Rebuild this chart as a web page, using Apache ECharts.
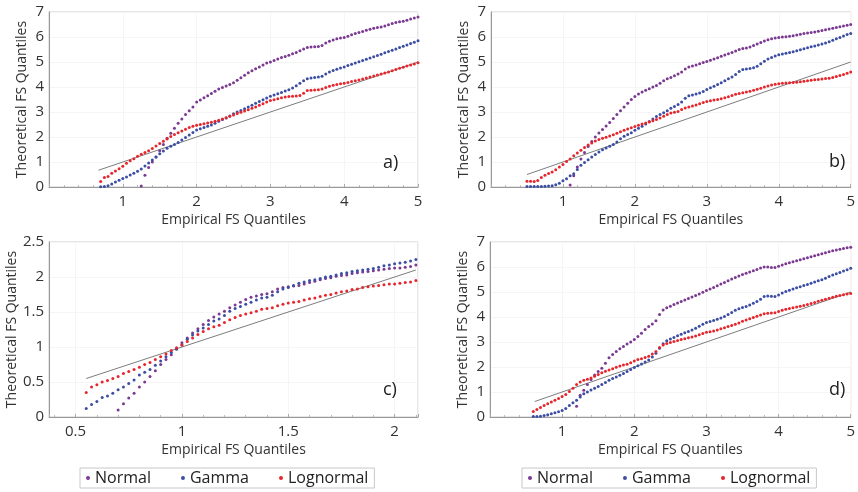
<!DOCTYPE html>
<html><head><meta charset="utf-8">
<script src="https://cdn.jsdelivr.net/npm/echarts@6/dist/echarts.min.js"></script>
<style>html,body{margin:0;padding:0;background:#fff}#c{width:858px;height:492px}</style>
</head><body><div id="c"></div>
<script>
// ---------- DATA ----------
const seriesNames = ['Normal', 'Gamma', 'Lognormal'];
const panelTags = ['a)', 'b)', 'c)', 'd)'];

// Panel a
const xA = [0.70,0.75,0.80,0.85,0.90,0.95,1.00,1.05,1.10,1.15,
  1.20,1.25,1.30,1.35,1.40,1.45,1.50,1.55,1.60,1.65,
  1.70,1.75,1.80,1.85,1.90,1.95,2.00,2.05,2.10,2.15,
  2.20,2.25,2.30,2.35,2.40,2.45,2.50,2.55,2.60,2.65,
  2.70,2.75,2.80,2.85,2.90,2.95,3.00,3.05,3.10,3.15,
  3.20,3.25,3.30,3.35,3.40,3.45,3.50,3.55,3.60,3.65,
  3.70,3.75,3.80,3.85,3.90,3.95,4.00,4.05,4.10,4.15,
  4.20,4.25,4.30,4.35,4.40,4.45,4.50,4.55,4.60,4.65,
  4.70,4.75,4.80,4.85,4.90,4.95,5.00];
const normalA = [null,null,null,null,null,null,null,null,null,null,
  null,0.04,0.47,0.78,1.00,1.20,1.45,1.70,1.95,2.15,
  2.35,2.55,2.72,2.90,3.05,3.20,3.40,3.48,3.57,3.65,
  3.74,3.83,3.92,3.98,4.04,4.10,4.17,4.27,4.37,4.47,
  4.57,4.65,4.73,4.80,4.88,4.96,5.00,5.06,5.12,5.18,
  5.22,5.27,5.33,5.38,5.45,5.52,5.58,5.60,5.61,5.62,
  5.66,5.76,5.83,5.88,5.93,5.96,5.98,6.03,6.09,6.14,
  6.18,6.22,6.27,6.31,6.35,6.38,6.40,6.44,6.49,6.54,
  6.58,6.61,6.63,6.67,6.72,6.76,6.80];
const gammaA = [0.01,0.02,0.05,0.12,0.20,0.27,0.34,0.40,0.48,0.55,
  0.63,0.72,0.84,0.96,1.08,1.20,1.33,1.44,1.55,1.63,
  1.70,1.78,1.88,1.98,2.08,2.18,2.28,2.33,2.38,2.43,
  2.48,2.55,2.63,2.70,2.76,2.84,2.93,3.00,3.06,3.13,
  3.20,3.27,3.35,3.42,3.49,3.56,3.63,3.68,3.73,3.78,
  3.84,3.89,3.96,4.05,4.15,4.25,4.33,4.36,4.38,4.40,
  4.43,4.52,4.60,4.66,4.71,4.76,4.80,4.86,4.91,4.96,
  5.01,5.06,5.11,5.16,5.21,5.26,5.31,5.37,5.42,5.47,
  5.52,5.58,5.63,5.68,5.74,5.79,5.85];
const lognormA = [0.22,0.38,0.42,0.55,0.64,0.73,0.83,0.95,1.05,1.13,
  1.23,1.31,1.38,1.45,1.54,1.64,1.74,1.83,1.92,2.02,
  2.10,2.17,2.24,2.31,2.38,2.43,2.47,2.50,2.53,2.56,
  2.59,2.63,2.67,2.72,2.77,2.83,2.88,2.94,2.99,3.04,
  3.09,3.15,3.20,3.27,3.33,3.40,3.46,3.49,3.53,3.57,
  3.60,3.62,3.63,3.64,3.66,3.75,3.86,3.87,3.88,3.89,
  3.92,3.98,4.03,4.07,4.10,4.13,4.15,4.18,4.22,4.25,
  4.28,4.32,4.36,4.40,4.44,4.48,4.52,4.56,4.60,4.65,
  4.70,4.75,4.79,4.84,4.88,4.92,4.97];
const refA = [0.67, 5.0];

// Panel b
const xB = [0.50,0.55,0.60,0.65,0.70,0.75,0.80,0.85,0.90,0.95,
  1.00,1.05,1.10,1.15,1.20,1.25,1.30,1.35,1.40,1.45,
  1.50,1.55,1.60,1.65,1.70,1.75,1.80,1.85,1.90,1.95,
  2.00,2.05,2.10,2.15,2.20,2.25,2.30,2.35,2.40,2.45,
  2.50,2.55,2.60,2.65,2.70,2.75,2.80,2.85,2.90,2.95,
  3.00,3.05,3.10,3.15,3.20,3.25,3.30,3.35,3.40,3.45,
  3.50,3.55,3.60,3.65,3.70,3.75,3.80,3.85,3.90,3.95,
  4.00,4.05,4.10,4.15,4.20,4.25,4.30,4.35,4.40,4.45,
  4.50,4.55,4.60,4.65,4.70,4.75,4.80,4.85,4.90,4.95,
  5.00];
const normalB = [null,null,null,null,null,null,null,null,null,null,
  null,null,0.08,0.45,0.80,1.12,1.38,1.62,1.82,2.00,
  2.16,2.30,2.44,2.58,2.74,2.90,3.05,3.20,3.35,3.50,
  3.62,3.72,3.80,3.87,3.93,4.00,4.06,4.15,4.25,4.33,
  4.38,4.45,4.52,4.60,4.72,4.80,4.84,4.88,4.93,4.98,
  5.02,5.07,5.12,5.17,5.23,5.28,5.33,5.38,5.44,5.50,
  5.54,5.56,5.60,5.66,5.72,5.78,5.84,5.89,5.93,5.96,
  5.98,6.00,6.01,6.03,6.05,6.08,6.11,6.14,6.16,6.18,
  6.20,6.23,6.26,6.29,6.32,6.35,6.38,6.41,6.44,6.47,
  6.50];
const gammaB = [0.02,0.02,0.02,0.02,0.02,0.03,0.04,0.05,0.09,0.15,
  0.25,0.33,0.45,0.53,0.70,0.87,0.98,1.09,1.20,1.30,
  1.40,1.49,1.56,1.63,1.70,1.80,1.93,2.03,2.10,2.17,
  2.27,2.35,2.43,2.52,2.62,2.72,2.82,2.90,2.97,3.05,
  3.15,3.22,3.30,3.40,3.55,3.65,3.68,3.72,3.76,3.82,
  3.90,3.97,4.03,4.10,4.17,4.25,4.33,4.40,4.50,4.62,
  4.70,4.72,4.74,4.77,4.83,4.93,5.03,5.12,5.18,5.24,
  5.29,5.32,5.35,5.38,5.41,5.45,5.49,5.53,5.57,5.61,
  5.64,5.68,5.72,5.76,5.81,5.87,5.93,5.98,6.04,6.10,
  6.14];
const lognormB = [0.23,0.23,0.22,0.26,0.38,0.47,0.54,0.60,0.69,0.80,
  0.90,1.02,1.12,1.25,1.36,1.47,1.58,1.68,1.76,1.84,
  1.90,1.95,1.99,2.04,2.09,2.15,2.21,2.27,2.32,2.37,
  2.42,2.47,2.52,2.56,2.60,2.65,2.70,2.76,2.83,2.90,
  2.96,2.99,3.02,3.10,3.16,3.20,3.24,3.28,3.33,3.38,
  3.42,3.45,3.48,3.50,3.53,3.57,3.61,3.66,3.71,3.74,
  3.77,3.80,3.83,3.87,3.91,3.95,4.00,4.04,4.08,4.11,
  4.13,4.15,4.16,4.17,4.18,4.19,4.21,4.23,4.25,4.27,
  4.29,4.30,4.32,4.34,4.35,4.38,4.42,4.46,4.50,4.55,
  4.60];
const refB = [0.50, 5.0];

// Panel c
const xC = [0.550,0.575,0.600,0.625,0.650,0.675,0.700,0.725,0.750,0.775,
  0.800,0.825,0.850,0.875,0.900,0.925,0.950,0.975,1.000,1.025,
  1.050,1.075,1.100,1.125,1.150,1.175,1.200,1.225,1.250,1.275,
  1.300,1.325,1.350,1.375,1.400,1.425,1.450,1.475,1.500,1.525,
  1.550,1.575,1.600,1.625,1.650,1.675,1.700,1.725,1.750,1.775,
  1.800,1.825,1.850,1.875,1.900,1.925,1.950,1.975,2.000,2.025,
  2.050,2.075,2.100];
const normalC = [null,null,null,null,null,null,0.10,0.19,0.27,0.34,
  0.43,0.50,0.58,0.66,0.75,0.82,0.89,0.97,1.06,1.13,
  1.20,1.26,1.32,1.38,1.43,1.47,1.51,1.56,1.60,1.64,
  1.68,1.71,1.73,1.75,1.76,1.79,1.83,1.85,1.86,1.87,
  1.88,1.90,1.92,1.94,1.96,1.98,1.99,2.01,2.02,2.03,
  2.05,2.06,2.07,2.08,2.09,2.10,2.11,2.12,2.13,2.13,
  2.14,2.15,2.17];
const gammaC = [0.12,0.18,0.22,0.28,0.30,0.34,0.39,0.43,0.48,0.53,
  0.60,0.64,0.68,0.74,0.80,0.86,0.92,0.97,1.03,1.11,
  1.17,1.23,1.27,1.32,1.37,1.40,1.45,1.51,1.55,1.58,
  1.61,1.64,1.67,1.70,1.71,1.74,1.79,1.83,1.85,1.88,
  1.91,1.93,1.95,1.96,1.98,2.00,2.01,2.03,2.05,2.06,
  2.08,2.09,2.10,2.11,2.12,2.14,2.16,2.17,2.19,2.20,
  2.21,2.23,2.25];
const lognormC = [0.35,0.43,0.46,0.50,0.52,0.55,0.58,0.62,0.65,0.68,
  0.71,0.75,0.78,0.82,0.86,0.90,0.95,0.99,1.03,1.08,
  1.13,1.18,1.22,1.26,1.29,1.31,1.35,1.39,1.42,1.45,
  1.47,1.49,1.51,1.54,1.55,1.56,1.59,1.61,1.63,1.64,
  1.65,1.67,1.69,1.70,1.72,1.74,1.75,1.77,1.79,1.80,
  1.82,1.83,1.85,1.86,1.87,1.88,1.89,1.90,1.90,1.91,
  1.92,1.93,1.95];
const refC = [0.55, 2.1];

// Panel d
const xD = [0.60,0.65,0.70,0.75,0.80,0.85,0.90,0.95,1.00,1.05,
  1.10,1.15,1.20,1.25,1.30,1.35,1.40,1.45,1.50,1.55,
  1.60,1.65,1.70,1.75,1.80,1.85,1.90,1.95,2.00,2.05,
  2.10,2.15,2.20,2.25,2.30,2.35,2.40,2.45,2.50,2.55,
  2.60,2.65,2.70,2.75,2.80,2.85,2.90,2.95,3.00,3.05,
  3.10,3.15,3.20,3.25,3.30,3.35,3.40,3.45,3.50,3.55,
  3.60,3.65,3.70,3.75,3.80,3.85,3.90,3.95,4.00,4.05,
  4.10,4.15,4.20,4.25,4.30,4.35,4.40,4.45,4.50,4.55,
  4.60,4.65,4.70,4.75,4.80,4.85,4.90,4.95,5.00];
const normalD = [null,null,null,null,null,null,null,null,null,null,
  null,null,0.43,0.87,1.07,1.30,1.50,1.68,1.82,1.95,
  2.15,2.37,2.50,2.62,2.73,2.82,2.92,3.00,3.10,3.22,
  3.35,3.50,3.62,3.72,3.85,4.10,4.28,4.37,4.43,4.50,
  4.56,4.62,4.68,4.74,4.80,4.86,4.92,4.99,5.06,5.12,
  5.18,5.25,5.32,5.38,5.45,5.52,5.58,5.64,5.70,5.75,
  5.80,5.85,5.90,5.96,6.00,6.00,5.98,5.98,6.03,6.08,
  6.13,6.17,6.21,6.25,6.29,6.33,6.37,6.41,6.45,6.49,
  6.53,6.57,6.61,6.65,6.68,6.71,6.74,6.77,6.79];
const gammaD = [0.02,0.02,0.03,0.06,0.09,0.13,0.17,0.21,0.26,0.34,
  0.46,0.57,0.67,0.80,0.93,1.00,1.08,1.15,1.22,1.30,
  1.38,1.47,1.54,1.60,1.67,1.74,1.82,1.90,1.98,2.05,
  2.12,2.20,2.28,2.40,2.55,2.75,2.93,3.05,3.12,3.18,
  3.25,3.31,3.37,3.42,3.48,3.55,3.63,3.71,3.78,3.82,
  3.86,3.91,3.96,4.02,4.10,4.18,4.27,4.33,4.38,4.42,
  4.48,4.55,4.62,4.71,4.82,4.84,4.83,4.82,4.88,4.96,
  5.02,5.07,5.12,5.17,5.21,5.26,5.30,5.35,5.40,5.45,
  5.49,5.55,5.62,5.68,5.73,5.78,5.84,5.89,5.95];
const lognormD = [0.22,0.30,0.38,0.46,0.53,0.60,0.67,0.74,0.82,0.90,
  1.02,1.15,1.30,1.40,1.47,1.51,1.56,1.63,1.70,1.77,
  1.83,1.88,1.93,1.99,2.04,2.08,2.11,2.17,2.24,2.30,
  2.33,2.38,2.43,2.52,2.62,2.78,2.88,2.94,2.98,3.02,
  3.06,3.10,3.13,3.17,3.20,3.24,3.29,3.34,3.39,3.41,
  3.44,3.48,3.53,3.57,3.62,3.66,3.71,3.76,3.83,3.88,
  3.93,3.98,4.03,4.08,4.13,4.15,4.16,4.17,4.22,4.27,
  4.31,4.34,4.37,4.40,4.43,4.46,4.50,4.54,4.58,4.63,
  4.67,4.71,4.75,4.79,4.83,4.86,4.89,4.92,4.94];
const refD = [0.62, 5.0];

// Axis ranges / ticks
const xRanges = [[0, 5], [0, 5], [0.375, 2.11], [0, 5]];
const yRanges = [[0, 7], [0, 7], [0, 2.5], [0, 7]];
const yIntervals = [1, 1, 0.5, 1];

// ---------- STYLE / LAYOUT ----------
const colors = { Normal: '#7b3a92', Gamma: '#3b4ea3', Lognormal: '#e6262c' };
const grids = [
  { left: 49, top: 12, width: 369, height: 175 },
  { left: 491, top: 12, width: 369.5, height: 175 },
  { left: 49, top: 242, width: 369, height: 175 },
  { left: 490, top: 242, width: 370, height: 175 }
];
const tagPos = [[383, 163], [829, 162], [383, 390], [829, 390]];

const panels = [
  { x: xA, Normal: normalA, Gamma: gammaA, Lognormal: lognormA, ref: refA },
  { x: xB, Normal: normalB, Gamma: gammaB, Lognormal: lognormB, ref: refB },
  { x: xC, Normal: normalC, Gamma: gammaC, Lognormal: lognormC, ref: refC },
  { x: xD, Normal: normalD, Gamma: gammaD, Lognormal: lognormD, ref: refD }
];

function pts(x, y) {
  const out = [];
  for (let i = 0; i < x.length && i < y.length; i++) {
    if (y[i] !== null && y[i] !== undefined) out.push([x[i], y[i]]);
  }
  return out;
}

const FONT = 'Open Sans';
const xAxes = [], yAxes = [], series = [], gridOpts = [], graphics = [];
panels.forEach((p, i) => {
  gridOpts.push(Object.assign({ show: true, borderColor: '#cccccc', borderWidth: 1, containLabel: false }, grids[i]));
  const xa = {
    type: 'value', gridIndex: i, min: xRanges[i][0], max: xRanges[i][1],
    name: 'Empirical FS Quantiles', nameLocation: 'middle', nameGap: 26,
    nameTextStyle: { fontSize: 14, color: '#333', fontFamily: FONT },
    axisLine: { show: true, lineStyle: { color: '#999', width: 1 } },
    axisTick: { show: true, inside: true, length: 3, lineStyle: { color: '#aaa' } },
    minorTick: { show: true, splitNumber: 5, length: 2, lineStyle: { color: '#bbb' } },
    splitLine: { show: true, lineStyle: { color: '#f5f5f5' } },
    axisLabel: { fontSize: 15, color: '#333', fontFamily: FONT, margin: 7, showMinLabel: false, showMaxLabel: i !== 2 }
  };
  if (i === 2) { xa.splitNumber = 4; } else { xa.interval = 1; }
  xAxes.push(xa);
  yAxes.push({
    type: 'value', gridIndex: i, min: yRanges[i][0], max: yRanges[i][1], interval: yIntervals[i],
    name: 'Theoretical FS Quantiles', nameLocation: 'middle', nameGap: 20,
    nameTextStyle: { fontSize: 14, color: '#333', fontFamily: FONT },
    axisLine: { show: true, lineStyle: { color: '#999', width: 1 } },
    axisTick: { show: false },
    splitLine: { show: true, lineStyle: { color: '#f5f5f5' } },
    axisLabel: { fontSize: 15, color: '#333', fontFamily: FONT, margin: 5 }
  });
  series.push({
    name: 'ref', type: 'line', xAxisIndex: i, yAxisIndex: i, silent: true,
    symbol: 'none', data: [[p.ref[0], p.ref[0]], [p.ref[1], p.ref[1]]],
    lineStyle: { color: '#7d7d7d', width: 1 }, z: 1, animation: false
  });
  seriesNames.forEach(n => {
    series.push({
      name: n, type: 'scatter', xAxisIndex: i, yAxisIndex: i,
      symbol: 'circle', symbolSize: 3, data: pts(p.x, p[n]),
      itemStyle: { color: colors[n], opacity: 1 }, z: 2, animation: false
    });
  });
  graphics.push({
    type: 'text', x: tagPos[i][0], y: tagPos[i][1], z: 100,
    style: { text: panelTags[i], fontSize: 18, fill: '#222', fontFamily: FONT, verticalAlign: 'middle' }
  });
});

const legendBase = {
  orient: 'horizontal', top: 468, icon: 'circle', itemWidth: 4, itemHeight: 4,
  itemGap: 30, borderColor: '#c8c8c8', borderWidth: 1, padding: [2, 6, 2, 6],
  textStyle: { fontSize: 16, color: '#222', fontFamily: FONT },
  data: seriesNames, selectedMode: false
};

const chart = echarts.init(document.getElementById('c'), null, { renderer: 'canvas' });
chart.setOption({
  animation: false,
  backgroundColor: '#ffffff',
  textStyle: { fontFamily: FONT },
  grid: gridOpts,
  xAxis: xAxes,
  yAxis: yAxes,
  legend: [Object.assign({ left: 80 }, legendBase), Object.assign({ left: 522 }, legendBase)],
  graphic: graphics,
  series: series
});
</script></body></html>
